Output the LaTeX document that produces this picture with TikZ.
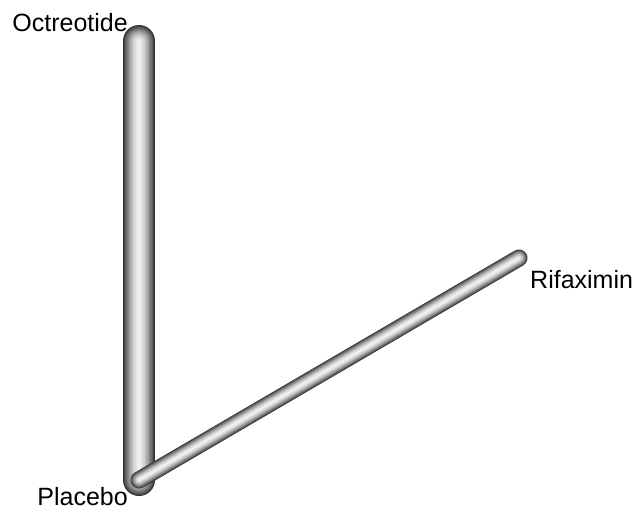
\documentclass[tikz,border=0pt]{standalone}
\usepackage{fontspec}
\setmainfont{Liberation Sans}
\usetikzlibrary{positioning}

\begin{document}
\begin{tikzpicture}[x=1pt, y=-1pt,
    trt/.style={font=\fontsize{25}{30}\selectfont, inner sep=0pt},
    tube/.style={line cap=round}
  ]
  \useasboundingbox (0,0) rectangle (635,511);
  % network nodes
  \coordinate (octreotide) at (139,41);
  \coordinate (placebo) at (139,480);
  \coordinate (rifaximin) at (519,258);
  % thick edge
  \foreach \k in {0,...,19} {
    \pgfmathsetmacro{\r}{1-\k/20}
    \pgfmathsetmacro{\p}{5+75*\r^1.6}
    \draw[tube, line width=32*\r pt, draw=black!\p] (octreotide) -- (placebo);
  }
  % thin edge
  \foreach \k in {0,...,19} {
    \pgfmathsetmacro{\r}{1-\k/20}
    \pgfmathsetmacro{\p}{5+75*\r^1.6}
    \draw[tube, line width=17*\r pt, draw=black!\p] (placebo) -- (rifaximin);
  }
  % labels
  \node[trt, anchor=base east] (octlabel) at (128,32) {Octreotide};
  \node[trt, anchor=base east] (plalabel) at (128,505) {Placebo};
  \node[trt, anchor=base west] (rifLabel) at (530,288) {Rifaximin};
\end{tikzpicture}
\end{document}
